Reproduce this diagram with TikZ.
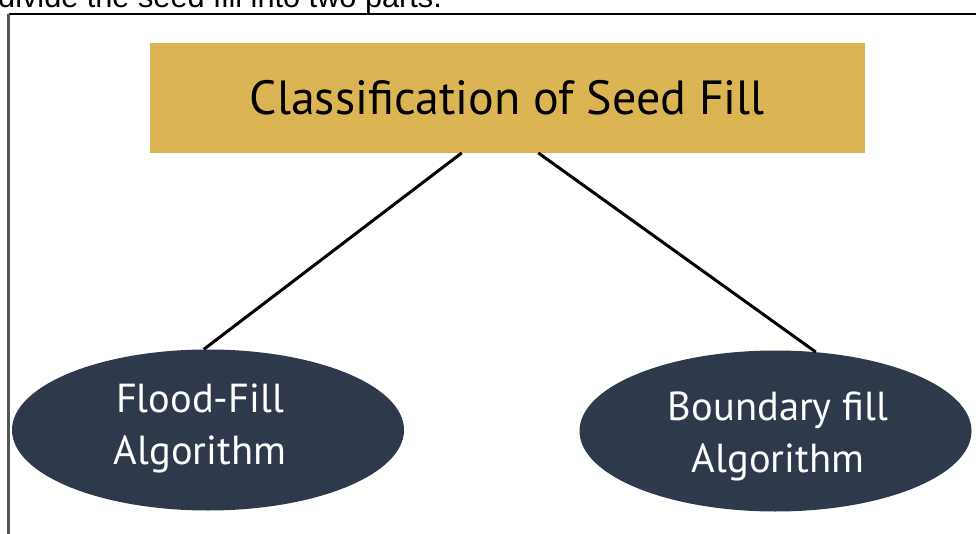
\documentclass[tikz,border=0pt]{standalone}
\usepackage{fontspec}
\setmainfont{PT Sans}
\newfontfamily\arialfont{Liberation Sans}
\usetikzlibrary{shapes.geometric,calc}
\definecolor{gold}{HTML}{DBB453}
\definecolor{navy}{HTML}{2E3A4B}
\definecolor{framegray}{HTML}{555555}
\tikzset{
  titlebox/.style={fill=gold, draw=none, rectangle, minimum width=715.5pt, minimum height=110pt, inner sep=0pt,
    font=\fontsize{48}{58}\selectfont, text=black},
  algobox/.style={ellipse, fill=navy, draw=none, minimum width=392pt, minimum height=161pt, inner sep=0pt},
  algotext/.style={align=center, text=white, inner sep=0pt, font=\fontsize{40.5}{52}\selectfont},
  link/.style={draw=black, line width=3pt},
}
\begin{document}
\begin{tikzpicture}[x=1pt,y=-1pt]
\useasboundingbox (0,0) rectangle (976,534);
\fill[white] (0,0) rectangle (976,534);
% cut-off sentence at top
\node[anchor=base west, inner sep=0pt, font=\arialfont\fontsize{30.7}{36}\selectfont] (intro) at (-2,7.5) {divide the seed fill into two parts.};
% frame
\draw[line width=2.5pt, black] (8.5,14.2) -- (980,14.2);
\draw[line width=2.8pt, framegray] (8.7,14.2) -- (8.7,540);
% title
\node[titlebox] (title) at (507.25,97.7) {Classification of Seed Fill};
% ellipses
\node[algobox] (flood) at (208,430) {};
\node[algobox] (bound) at (775.5,431) {};
\node[algotext] (floodtxt) at (200,428.4) {Flood-Fill\\Algorithm};
\node[algotext] (boundtxt) at (778,436.4) {Boundary fill\\Algorithm};
% connectors
\draw[link] ($(title.south)+(-45.5,0)$) -- (flood.93);
\draw[link] ($(title.south)+(31,0)$) -- (bound.63);
\end{tikzpicture}
\end{document}
